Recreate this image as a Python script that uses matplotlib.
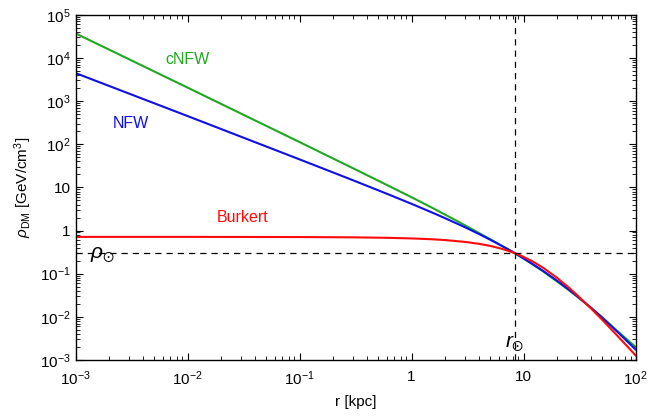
import numpy as np
import matplotlib
matplotlib.use('Agg')
import matplotlib.pyplot as plt
from matplotlib.ticker import LogLocator, FuncFormatter

# ------------------------- #
# Perfis de densidade (GeV/cm^3)
# ------------------------- #

r_kpc = [1e-3, 1e-2, 0.1, 0.3, 0.6, 1, 1.5, 2, 3, 4, 5, 6.5, 8.33,
         10, 12, 15, 20, 25, 30, 40, 50, 70, 100]

rho_nfw = [4450, 449, 44.5, 14.6, 7.13, 4.15, 2.66, 1.92, 1.19, 0.829,
           0.619, 0.431, 0.300, 0.226, 0.168, 0.115, 0.0679, 0.0439,
           0.0302, 0.0161, 0.00968, 0.00429, 0.00175]

rho_cnfw = [37000, 2050, 112, 27.7, 11.4, 5.9, 3.44, 2.32, 1.32, 0.875,
            0.632, 0.430, 0.300, 0.224, 0.165, 0.112, 0.0655, 0.0425,
            0.0295, 0.0162, 0.0099, 0.0045, 0.0020]

rho_burkert = [0.712, 0.712, 0.706, 0.695, 0.678, 0.656, 0.628, 0.600,
               0.545, 0.492, 0.442, 0.3725, 0.300, 0.245, 0.193, 0.136,
               0.0791, 0.0489, 0.0320, 0.0156, 0.00869, 0.00346, 0.00128]

R_SUN = 8.33
RHO_SUN = 0.3

# ------------------------- #
# Estilo
# ------------------------- #

plt.rcParams['font.family'] = ['Liberation Sans', 'DejaVu Sans']
plt.rcParams['mathtext.fontset'] = 'custom'
plt.rcParams['mathtext.rm'] = 'Liberation Sans'
plt.rcParams['mathtext.it'] = 'Liberation Sans:italic'
plt.rcParams['mathtext.bf'] = 'Liberation Sans:bold'
plt.rcParams['mathtext.fallback'] = 'stixsans'


def pow_label(v, pos):
    e = int(round(np.log10(v)))
    if e == 0:
        return '1'
    if e == 1:
        return '10'
    return r'$\mathregular{10^{%d}}$' % e


fig = plt.figure(figsize=(6.7, 4.17), dpi=100)
ax = fig.add_axes([0.1127, 0.1367, 0.836, 0.828])

ax.plot(r_kpc, rho_cnfw, color='#1fa81f', lw=1.5)
ax.plot(r_kpc, rho_nfw, color='#0f0fe6', lw=1.5)
ax.plot(r_kpc, rho_burkert, color='#ff0a0a', lw=1.5)

ax.axvline(R_SUN, color='black', lw=0.9, ls=(0, (5, 4)))
ax.axhline(RHO_SUN, color='black', lw=0.9, ls=(0, (5, 4)))

ax.set_xscale('log')
ax.set_yscale('log')
ax.set_xlim(1e-3, 1e2)
ax.set_ylim(1e-3, 1e5)

for axis in (ax.xaxis, ax.yaxis):
    axis.set_major_locator(LogLocator(base=10, numticks=20))
    axis.set_minor_locator(LogLocator(base=10, subs=np.arange(2, 10), numticks=200))
    axis.set_major_formatter(FuncFormatter(pow_label))

ax.tick_params(which='both', direction='in', top=True, right=True,
               labelsize=11, width=0.8, colors='black')
ax.tick_params(which='major', length=5)
ax.tick_params(which='minor', length=2.8, width=0.6)
ax.tick_params(axis='x', pad=7)
for s in ax.spines.values():
    s.set_linewidth(1.0)

ax.set_xlabel('r [kpc]', fontsize=11, labelpad=5)
ax.set_ylabel(r'$\rho_{\rm DM}$ [GeV/cm$^3$]', fontsize=11, labelpad=4)

ax.text(0.0099, 9400, 'cNFW', fontsize=11.5, color='#1fa81f',
        ha='center', va='center')
ax.text(0.0031, 295, 'NFW', fontsize=11.5, color='#0f0fe6',
        ha='center', va='center')
ax.text(0.031, 1.95, 'Burkert', fontsize=11.5, color='#ff0a0a',
        ha='center', va='center')

ax.text(1.75e-3, RHO_SUN * 0.93, r'$\rho_{\odot}$', fontsize=15,
        ha='center', va='center')
ax.text(R_SUN, 1.45e-3, r'$r_{\odot}$', fontsize=15, ha='center', va='bottom')

fig.savefig('out.png', dpi=100)
